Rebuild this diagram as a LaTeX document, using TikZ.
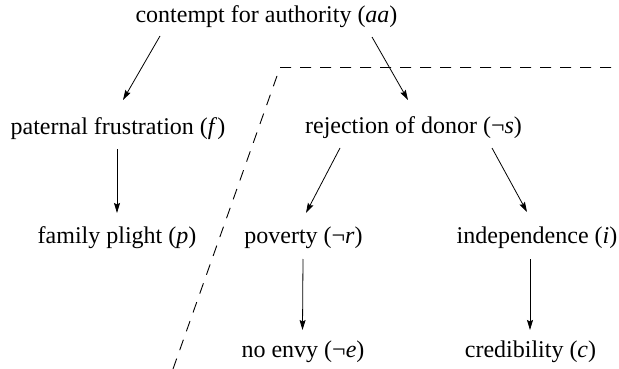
\documentclass[tikz,border=0pt]{standalone}
\usepackage{fontspec}
\setmainfont{Liberation Serif}
\usetikzlibrary{arrows.meta,calc}
\begin{document}
\begin{tikzpicture}[x=1pt,y=-1pt,
  lbl/.style={anchor=base,inner sep=0pt,font=\fontsize{24}{28}\selectfont},
  arr/.style={line width=0.8pt,-{Stealth[length=10pt,width=6pt,inset=1.5pt]}},
  dsh/.style={line width=0.9pt,dash pattern=on 11pt off 9pt}]
\useasboundingbox (0,0) rectangle (619,369);
\node[lbl] (aa) at (266.5,23) {contempt for authority (\textit{aa})};
\node[lbl] (f) at (118,134) {paternal frustration (\textit{f})};
\node[lbl] (ns) at (413.5,133) {rejection of donor (¬\textit{s})};
\node[lbl] (p) at (117,243) {family plight (\textit{p})};
\node[lbl] (nr) at (303.5,243) {poverty (¬\textit{r})};
\node[lbl] (i) at (537,243) {independence (\textit{i})};
\node[lbl] (ne) at (303,357) {no envy (¬\textit{e})};
\node[lbl] (c) at (530.5,357) {credibility (\textit{c})};
\draw[arr] ($(aa.base)+(-106.5,13)$) -- ($(f.base)+(5,-34)$);
\draw[arr] ($(aa.base)+(105.5,14)$) -- ($(ns.base)+(-5.5,-33)$);
\draw[arr] ($(f.base)+(-1,15)$) -- ($(p.base)+(0,-30)$);
\draw[arr] ($(ns.base)+(-73.5,15)$) -- ($(nr.base)+(2.5,-30)$);
\draw[arr] ($(ns.base)+(78.5,15)$) -- ($(i.base)+(-10,-31)$);
\draw[arr] ($(nr.base)+(-0.5,16)$) -- ($(ne.base)+(-0.5,-27)$);
\draw[arr] ($(i.base)+(-7,16)$) -- ($(c.base)+(-0.5,-27)$);
\coordinate (d1) at (173,369);
\coordinate (d2) at (280,67.5);
\coordinate (d3) at (619,67.5);
\draw[dsh] (d1) -- (d2) -- (d3);
\end{tikzpicture}
\end{document}
